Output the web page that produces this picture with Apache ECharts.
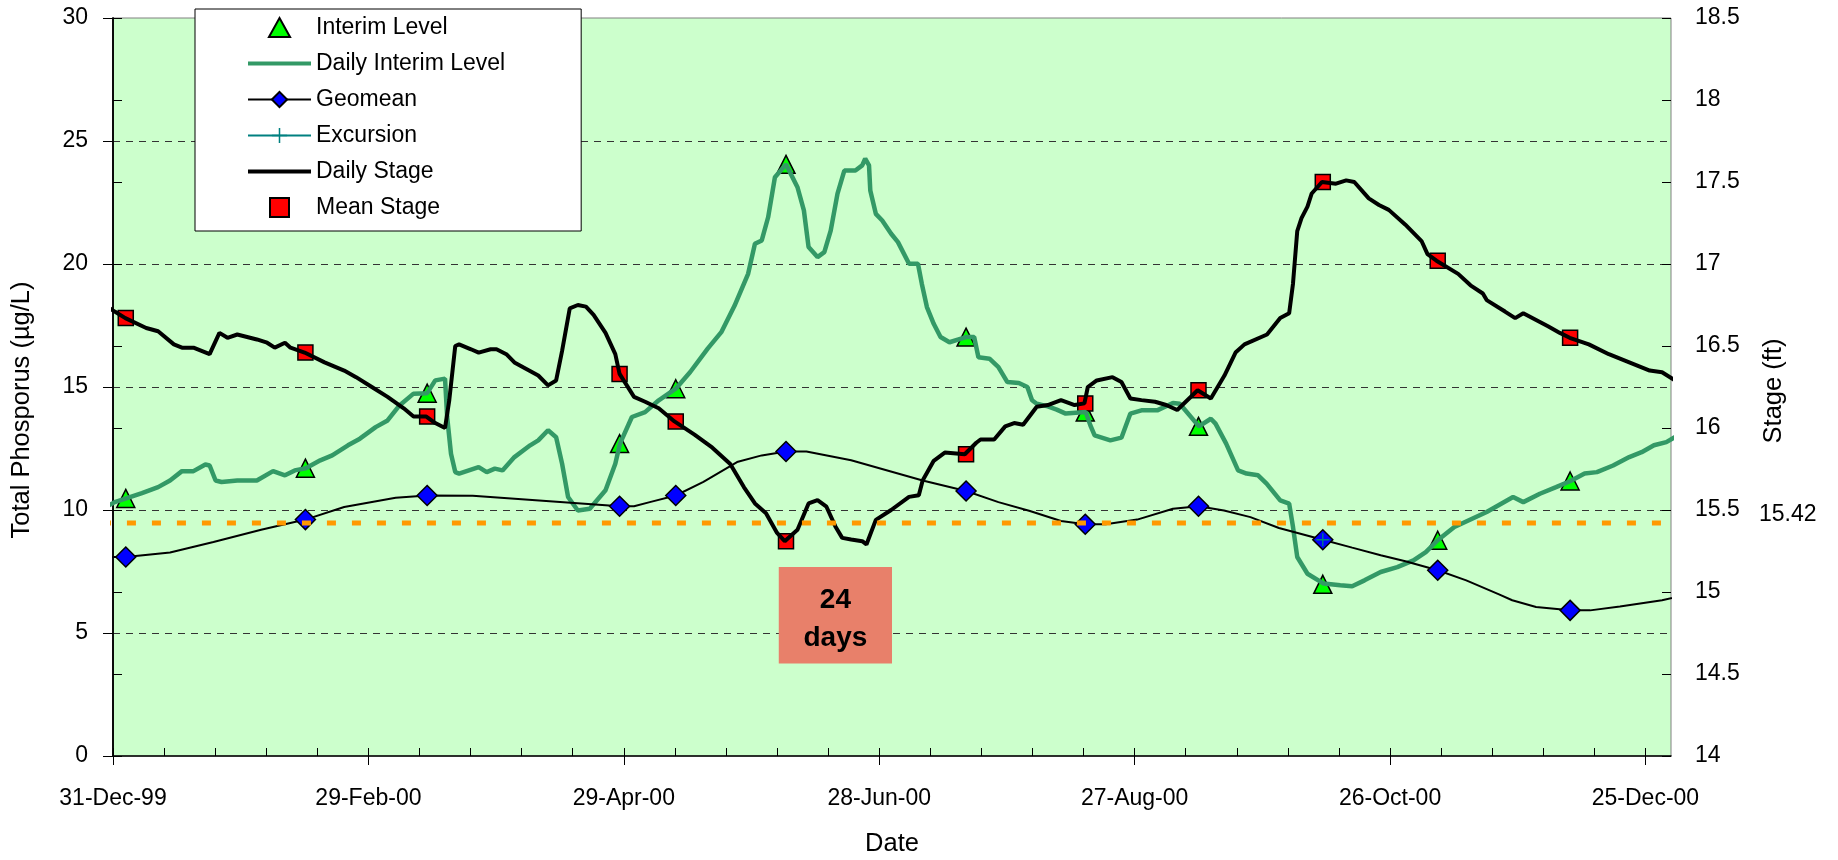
<!DOCTYPE html>
<html>
<head>
<meta charset="utf-8">
<title>Total Phosphorus and Stage</title>
<script src="https://cdn.jsdelivr.net/npm/echarts@6/dist/echarts.min.js"></script>
<style>
  html, body { margin: 0; padding: 0; background: #fff; }
  #chart { width: 1838px; height: 860px; }
</style>
</head>
<body>
<div id="chart"></div>
<script>
// days are counted from 31-Dec-1999
const sampleDays = [3.0, 45.2, 73.8, 119.0, 132.2, 158.1, 200.4, 228.4, 255.0, 284.2, 311.2, 342.3];
const interimLevel = [10.47, 11.70, 14.75, 12.70, 14.93, 24.05, 17.03, 13.98, 13.40, 6.98, 8.77, 11.18];
const geomean = [8.09, 9.61, 10.59, 10.15, 10.59, 12.38, 10.77, 9.42, 10.15, 8.79, 7.55, 5.92];
const meanStage = [16.67, 16.46, 16.07, 16.33, 16.04, 15.31, 15.84, 16.15, 16.23, 17.50, 17.02, 16.55];
const excursion = [[284.2, 8.79]];

// daily traces [day, value]
const dailyInterim = [
  [-2.6, 10.03], [0.4, 10.32], [3.1, 10.47], [6.8, 10.69], [10.6, 10.93], [13.4, 11.2], [16.2, 11.58], [18.9, 11.58],
  [21.7, 11.85], [22.7, 11.81], [24.1, 11.2], [25.5, 11.14], [29.2, 11.2], [33.8, 11.2], [37.6, 11.58], [40.4, 11.41],
  [42.7, 11.61], [45.3, 11.70], [48.7, 12.02], [51.5, 12.22], [55.2, 12.63], [58.0, 12.90], [61.7, 13.37], [64.5, 13.64],
  [67.3, 14.25], [70.6, 14.73], [73.8, 14.75], [75.7, 15.27], [78.0, 15.34], [78.5, 13.78], [79.4, 12.29], [80.4, 11.54],
  [81.3, 11.48], [85.9, 11.74], [87.8, 11.54], [89.7, 11.68], [91.5, 11.61], [94.3, 12.15], [98.0, 12.63], [99.9, 12.83],
  [102.2, 13.24], [104.1, 12.96], [105.5, 11.88], [106.9, 10.53], [109.2, 9.98], [112.0, 10.05], [115.7, 10.80], [118.0, 11.88],
  [119.1, 12.70], [121.9, 13.78], [125.0, 13.98], [128.2, 14.46], [132.2, 14.93], [135.6, 15.61], [139.7, 16.56], [142.9, 17.23],
  [146.0, 18.3], [149.2, 19.60], [150.8, 20.82], [152.4, 20.96], [153.9, 21.90], [155.5, 23.53], [158.1, 24.05], [160.8, 23.12],
  [162.3, 22.18], [163.4, 20.69], [165.5, 20.28], [167.1, 20.48], [168.6, 21.36], [170.2, 22.86], [171.8, 23.80], [174.4, 23.80],
  [176.0, 24.01], [176.7, 24.28], [177.6, 24.01], [177.9, 22.99], [179.2, 22.04], [180.7, 21.77], [182.8, 21.23], [184.4, 20.89],
  [187.0, 20.01], [189.1, 20.01], [190.0, 19.20], [191.2, 18.25], [192.8, 17.57], [194.4, 17.03], [196.5, 16.82], [200.4, 17.03],
  [202.3, 17.03], [203.3, 16.21], [205.9, 16.15], [208.0, 15.81], [210.1, 15.20], [212.8, 15.16], [214.8, 15.0], [215.9, 14.46],
  [217.0, 14.32], [219.6, 14.21], [221.7, 14.08], [223.8, 13.92], [228.5, 13.98], [229.6, 13.44], [230.6, 13.03], [234.3, 12.83],
  [236.9, 12.94], [239.0, 13.92], [241.6, 14.05], [245.3, 14.05], [249.0, 14.35], [250.6, 14.32], [255.1, 13.40], [257.9, 13.71],
  [259.0, 13.51], [261.5, 12.70], [264.3, 11.61], [266.3, 11.48], [269.0, 11.41], [271.0, 11.07], [274.2, 10.39], [276.3, 10.26],
  [277.2, 9.31], [278.2, 8.09], [280.6, 7.41], [284.4, 7.01], [288.3, 6.94], [291.1, 6.90], [294.0, 7.14], [297.8, 7.48],
  [301.7, 7.68], [305.5, 7.95], [308.4, 8.29], [311.2, 8.77], [315.1, 9.31], [322.7, 9.92], [328.9, 10.53], [331.3, 10.32],
  [335.2, 10.66], [339.0, 10.93], [342.4, 11.18], [345.7, 11.48], [348.6, 11.54], [352.4, 11.81], [356.2, 12.15], [359.1, 12.35],
  [362.0, 12.63], [364.9, 12.76], [369.4, 13.21]
];

const dailyStage = [
  [-2.6, 16.76], [0.4, 16.71], [2.9, 16.67], [7.8, 16.61], [10.6, 16.59], [14.3, 16.51], [16.2, 16.49], [18.9, 16.49],
  [22.7, 16.45], [25.0, 16.58], [26.9, 16.55], [29.2, 16.57], [33.8, 16.54], [36.2, 16.52], [38.0, 16.49], [40.4, 16.52],
  [41.7, 16.49], [45.0, 16.46], [49.7, 16.40], [54.3, 16.35], [57.1, 16.31], [60.8, 16.25], [64.5, 16.19], [68.3, 16.12],
  [70.6, 16.07], [73.6, 16.07], [75.7, 16.03], [78.0, 16.00], [79.0, 16.17], [80.4, 16.50], [81.3, 16.51], [84.1, 16.48],
  [85.9, 16.46], [88.7, 16.48], [90.1, 16.48], [92.4, 16.45], [94.3, 16.40], [97.1, 16.36], [99.9, 16.32], [102.2, 16.26],
  [104.1, 16.29], [105.5, 16.47], [107.3, 16.73], [109.2, 16.75], [111.1, 16.74], [112.9, 16.69], [115.7, 16.58], [118.0, 16.45],
  [119.0, 16.33], [122.4, 16.19], [125.0, 16.16], [128.2, 16.12], [131.9, 16.04], [136.6, 15.96], [140.8, 15.88], [145.0, 15.78],
  [148.2, 15.64], [150.8, 15.54], [153.4, 15.48], [156.0, 15.36], [157.8, 15.31], [160.8, 15.38], [163.4, 15.54], [165.5, 15.56],
  [167.6, 15.52], [169.7, 15.40], [171.3, 15.33], [173.4, 15.32], [176.0, 15.31], [177.0, 15.29], [179.2, 15.44], [182.8, 15.50],
  [187.0, 15.58], [189.3, 15.59], [190.2, 15.68], [192.8, 15.80], [195.4, 15.85], [200.1, 15.84], [202.8, 15.91], [203.8, 15.93],
  [207.0, 15.93], [209.6, 16.01], [211.7, 16.03], [213.8, 16.02], [217.0, 16.13], [219.6, 16.14], [222.7, 16.17], [225.9, 16.14],
  [228.2, 16.15], [229.0, 16.25], [231.1, 16.29], [234.8, 16.31], [236.9, 16.28], [239.0, 16.18], [241.6, 16.17], [244.8, 16.16],
  [247.4, 16.14], [250.0, 16.11], [254.8, 16.23], [257.9, 16.18], [261.1, 16.32], [263.7, 16.46], [265.8, 16.51], [271.1, 16.57],
  [274.2, 16.67], [276.3, 16.70], [277.2, 16.88], [278.2, 17.20], [279.2, 17.28], [280.6, 17.35], [281.6, 17.43], [284.0, 17.50],
  [287.3, 17.49], [289.7, 17.51], [291.6, 17.50], [295.0, 17.40], [297.4, 17.36], [299.7, 17.33], [303.6, 17.24], [307.4, 17.14],
  [308.8, 17.06], [310.9, 17.02], [316.0, 16.94], [318.9, 16.87], [321.8, 16.82], [322.7, 16.78], [327.0, 16.71], [329.4, 16.67],
  [331.3, 16.70], [337.1, 16.62], [339.9, 16.58], [342.2, 16.55], [346.7, 16.51], [351.4, 16.45], [356.2, 16.40], [361.0, 16.35],
  [363.9, 16.34], [369.4, 16.25]
];

// geomean curve between the sample days
const geomeanCurve = [
  [-2.6, 8.09], [13.4, 8.27], [23.6, 8.70], [34.8, 9.20], [54.3, 10.12], [66.4, 10.50], [84.5, 10.58], [122.4, 10.15],
  [126.1, 10.32], [138.7, 11.14], [146.6, 11.95], [152.4, 12.22], [162.9, 12.38], [173.4, 12.02], [190.2, 11.2], [208.0, 10.32],
  [215.4, 9.96], [222.7, 9.55], [233.2, 9.42], [240.6, 9.61], [249.0, 10.05], [261.0, 9.98], [267.2, 9.71], [273.9, 9.27],
  [291.1, 8.47], [297.8, 8.16], [303.6, 7.92], [317.9, 7.14], [325.6, 6.57], [328.7, 6.33], [334.3, 6.06], [347.0, 5.92],
  [354.0, 6.08], [363.9, 6.33], [369.4, 6.55]
];

const stageTarget = 15.42;
const targetDays = [-2.6, 368.0];
const boxDays = [156.4, 183.0];
const boxValues = [7.68, 3.76];
const boxText = '24\ndays';

const majorTicks = [0, 60, 120, 180, 240, 300, 360];
const minorTicks = [];
for (let d = 0; d <= 360; d += 12) minorTicks.push(d);

const MONTHS = ['Jan', 'Feb', 'Mar', 'Apr', 'May', 'Jun', 'Jul', 'Aug', 'Sep', 'Oct', 'Nov', 'Dec'];
function dayLabel(d) {
  const t = new Date(Date.UTC(1999, 11, 31) + d * 864e5);
  return t.getUTCDate() + '-' + MONTHS[t.getUTCMonth()] + '-' + String(t.getUTCFullYear()).slice(2);
}

const FONT = '"Liberation Sans", Arial, sans-serif';
const plusPath = 'path://M9,0h2v20h-2z M0,9h20v2h-20z';
const barPath = 'path://M0,0H60V4H0Z';
const triPath = 'path://M10,0L20,18L0,18Z';
const boxPath = 'path://M0,0H10V10H0Z';

const geomeanData = sampleDays.map((d, i) => ({ value: [d, geomean[i]] }))
  .concat(geomeanCurve.map(p => ({ value: p, symbol: 'none' })))
  .sort((a, b) => a.value[0] - b.value[0]);

const chart = echarts.init(document.getElementById('chart'));
chart.setOption({
  animation: false,
  textStyle: { fontFamily: FONT },
  grid: {
    left: 113, right: 167, top: 18, bottom: 104,
    show: true, backgroundColor: '#CCFFCC', borderColor: '#808080', borderWidth: 1,
    outerBoundsMode: 'none'
  },
  legend: {
    orient: 'vertical', left: 195, top: 9,
    backgroundColor: '#fff', borderColor: '#000', borderWidth: 1,
    padding: [7, 76, 12, 52],
    itemWidth: 63, itemHeight: 19, itemGap: 13,
    textStyle: { fontSize: 23, color: '#000', fontFamily: FONT },
    data: [
      { name: 'Interim Level', icon: triPath },
      { name: 'Daily Interim Level', icon: barPath },
      'Geomean',
      'Excursion',
      { name: 'Daily Stage', icon: barPath },
      { name: 'Mean Stage', icon: boxPath }
    ]
  },
  xAxis: [
    {
      type: 'value', min: 0, max: 366, position: 'bottom',
      name: 'Date', nameLocation: 'middle', nameGap: 75,
      nameTextStyle: { fontSize: 25.5, color: '#000' },
      axisLine: { lineStyle: { color: '#000', width: 1.5 } },
      axisTick: { customValues: majorTicks, length: 9, lineStyle: { color: '#000' } },
      axisLabel: { customValues: majorTicks, formatter: dayLabel, fontSize: 23, color: '#000', margin: 31 },
      splitLine: { show: false }
    },
    {
      type: 'value', min: 0, max: 366, position: 'bottom',
      axisLine: { show: false },
      axisTick: { customValues: minorTicks, inside: true, length: 8, lineStyle: { color: '#000' } },
      axisLabel: { show: false },
      splitLine: { show: false }
    }
  ],
  yAxis: [
    {
      type: 'value', min: 0, max: 30, interval: 5, position: 'left',
      name: 'Total Phosporus (µg/L)', nameLocation: 'middle', nameGap: 78,
      nameTextStyle: { fontSize: 25.5, color: '#000', padding: [0, 46, 0, 0] },
      axisLine: { show: true, lineStyle: { color: '#000', width: 1.5 } },
      axisTick: { show: true, length: 10, lineStyle: { color: '#000' } },
      axisLabel: { fontSize: 23, color: '#000', margin: 25 },
      splitLine: { show: true, showMinLine: false, showMaxLine: false, lineStyle: { color: '#333', width: 1, type: [7, 6] } }
    },
    {
      type: 'value', min: 14, max: 18.5, interval: 0.5, position: 'right',
      name: 'Stage (ft)', nameLocation: 'middle', nameGap: 90,
      nameTextStyle: { fontSize: 25.5, color: '#000', padding: [0, 8, 0, 0] },
      axisLine: { show: true, lineStyle: { color: '#000', width: 1.5 } },
      axisTick: { show: true, length: 9, lineStyle: { color: '#000' } },
      axisLabel: { fontSize: 23, color: '#000', margin: 24 },
      splitLine: { show: false }
    },
    {
      type: 'value', min: 14, max: 18.5, interval: 0.5, position: 'right',
      axisLine: { show: false },
      axisTick: { show: true, inside: true, length: 9, lineStyle: { color: '#000' } },
      axisLabel: { show: false },
      splitLine: { show: false }
    }
  ],
  series: [
    {
      name: 'Daily Interim Level', type: 'line', yAxisIndex: 0, clip: false,
      symbol: 'none', color: '#339966',
      lineStyle: { color: '#339966', width: 4.5 },
      data: dailyInterim
    },
    {
      name: 'Daily Stage', type: 'line', yAxisIndex: 1, clip: false,
      symbol: 'none', color: '#000',
      lineStyle: { color: '#000', width: 4 },
      data: dailyStage
    },
    {
      name: 'Geomean', type: 'line', yAxisIndex: 0, clip: false,
      symbol: 'diamond', symbolSize: 20, showAllSymbol: true,
      color: '#0000FF',
      itemStyle: { color: '#0000FF', borderColor: '#000', borderWidth: 1.5 },
      lineStyle: { color: '#000', width: 2 },
      data: geomeanData,
      markArea: {
        silent: true,
        itemStyle: { color: '#E8806A', opacity: 1 },
        label: {
          show: true, position: 'inside', formatter: boxText, offset: [0, 4],
          fontSize: 28, fontWeight: 'bold', color: '#000', lineHeight: 38, fontFamily: FONT
        },
        data: [[{ coord: [boxDays[0], boxValues[0]] }, { coord: [boxDays[1], boxValues[1]] }]]
      }
    },
    {
      name: 'Excursion', type: 'line', yAxisIndex: 0, clip: false,
      symbol: plusPath, symbolSize: 13, color: '#008080',
      itemStyle: { color: '#008080' },
      lineStyle: { color: '#008080', width: 2 },
      data: excursion
    },
    {
      name: 'Interim Level', type: 'scatter', yAxisIndex: 0, clip: false,
      symbol: 'triangle', symbolSize: 18,
      itemStyle: { color: '#00FF00', borderColor: '#000', borderWidth: 1.5, opacity: 1 },
      data: sampleDays.map((d, i) => [d, interimLevel[i]])
    },
    {
      name: 'Mean Stage', type: 'scatter', yAxisIndex: 1, clip: false,
      symbol: 'rect', symbolSize: 15,
      itemStyle: { color: '#FF0000', borderColor: '#000', borderWidth: 1.5, opacity: 1 },
      data: sampleDays.map((d, i) => [d, meanStage[i]])
    },
    {
      name: 'Target', type: 'line', yAxisIndex: 1, clip: false,
      symbol: 'none',
      lineStyle: { color: '#FF9900', width: 5, type: [9, 16], cap: 'butt' },
      data: targetDays.map(d => [d, stageTarget]),
      endLabel: {
        show: true, formatter: p => p.value[1].toFixed(2),
        fontSize: 23, color: '#000', distance: 85, offset: [0, -8], fontFamily: FONT
      },
      z: 5
    }
  ]
});
</script>
</body>
</html>
